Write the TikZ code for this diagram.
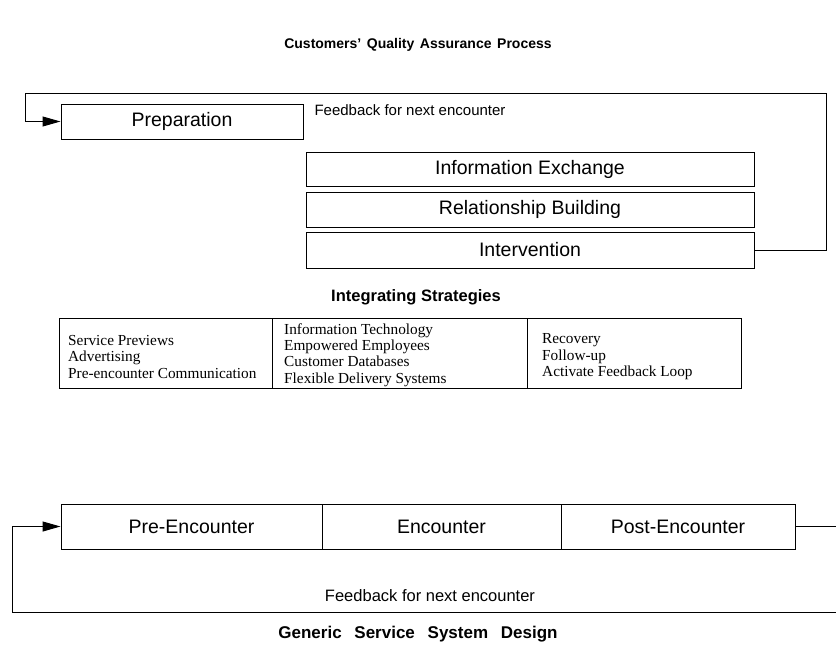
\documentclass[tikz,border=0pt]{standalone}
\usepackage{fontspec}
\setmainfont{Liberation Serif}
\setsansfont{Liberation Sans}
\usetikzlibrary{arrows.meta}
\newcommand{\gap}{\hspace{0.4em}}
\newcommand{\widegap}{\hspace{0.75em}}
\begin{document}
\begin{tikzpicture}[x=1pt,y=-1pt,
  stage/.style={draw, line width=1pt, rectangle, inner sep=0pt,
    font=\sffamily\fontsize{19.5}{21}\selectfont},
  heading/.style={font=\sffamily\bfseries\fontsize{14}{17}\selectfont},
  note/.style={font=\sffamily\fontsize{15}{17}\selectfont},
  loopline/.style={line width=1pt, -{Triangle[length=18pt,width=10pt]}},
  cell/.style={draw, line width=1pt, rectangle, inner sep=0pt, minimum height=70pt},
  celltext/.style={font=\fontsize{15.3}{16.4}\selectfont, align=left, anchor=west, inner sep=0pt},
]
\useasboundingbox (0,0) rectangle (836,656);
\clip (0,0) rectangle (836,656);

% headings
\node[heading] (hcust) at (418,45) {Customers’\gap Quality\gap Assurance\gap Process};
\node[heading, font=\sffamily\bfseries\fontsize{16.5}{19}\selectfont] (hint) at (416,297) {Integrating Strategies};
\node[heading, font=\sffamily\bfseries\fontsize{17}{20}\selectfont] (hgen) at (418,634) {Generic\widegap Service\widegap System\widegap Design};

% customer process stages
\node[stage, minimum width=242pt, minimum height=35pt] (prep) at (182,121.5) {Preparation};
\node[stage, minimum width=448pt, minimum height=34pt] (info) at (530,169) {Information Exchange};
\node[stage, minimum width=448pt, minimum height=35pt] (rel)  at (530,209.5) {Relationship Building};
\node[stage, minimum width=448pt, minimum height=36pt] (int)  at (530,250) {Intervention};

% feedback loop of the customer process
\coordinate (tr) at (826,93);
\coordinate (tl) at (25,93);
\draw[loopline] (int.east) -| (tr) -- (tl) |- (prep.west);
\node[note] (fbtop) at (410,110) {Feedback for next encounter};

% integrating strategies table
\node[cell, minimum width=213pt] (c1) at (165.5,353) {};
\node[cell, minimum width=255pt] (c2) at (399.5,353) {};
\node[cell, minimum width=214pt] (c3) at (634,353) {};
\node[celltext] (t1) at (68,357) {Service Previews\\Advertising\\Pre-encounter Communication};
\node[celltext] (t2) at (284,355) {Information Technology\\Empowered Employees\\Customer Databases\\Flexible Delivery Systems};
\node[celltext] (t3) at (542,357) {Recovery\\Follow-up\\Activate Feedback Loop};

% service system stages
\node[stage, minimum width=261pt, minimum height=45pt] (pre)  at (191.5,526.5) {Pre-Encounter};
\node[stage, minimum width=239pt, minimum height=45pt] (enc)  at (441.5,526.5) {Encounter};
\node[stage, minimum width=234pt, minimum height=45pt] (post) at (678,526.5) {Post-Encounter};

% feedback loop of the service system
\coordinate (br) at (842,612);
\coordinate (bl) at (12,612);
\draw[loopline] (post.east) -| (br) -- (bl) |- (pre.west);
\node[note, font=\sffamily\fontsize{16.5}{19}\selectfont] (fbbot) at (430,596) {Feedback for next encounter};
\end{tikzpicture}
\end{document}
